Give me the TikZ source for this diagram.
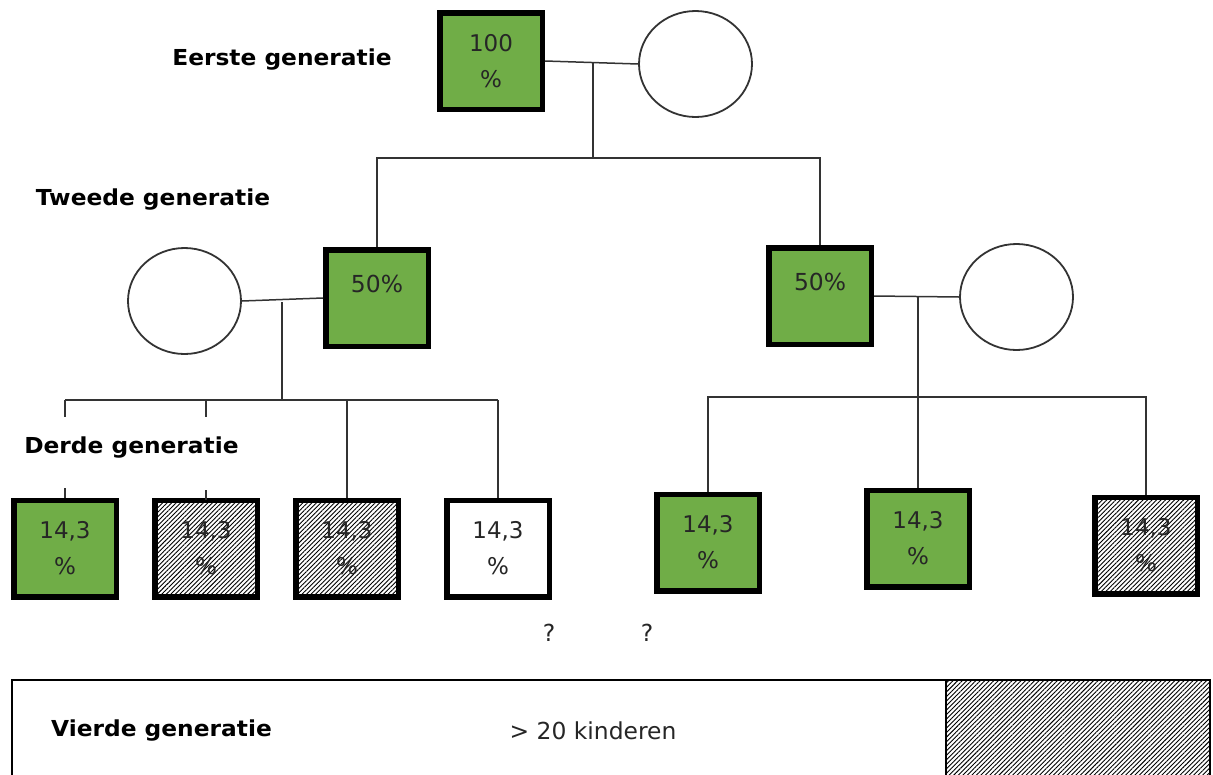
\documentclass[tikz,border=0pt]{standalone}
\usepackage{fontspec}
\setmainfont{DejaVu Sans}
\newfontfamily\genfont[FakeStretch=1.06]{DejaVu Sans}
\usetikzlibrary{shapes.geometric,patterns.meta}

\definecolor{boxgreen}{HTML}{70AD47}
\definecolor{linegray}{HTML}{333333}
\definecolor{txtgray}{HTML}{262626}

\tikzset{
  person/.style={draw=black, line width=5.5pt, minimum width=102.5pt,
    minimum height=96.5pt, inner sep=0pt, align=center, text=txtgray,
    font=\fontsize{23}{36}\selectfont},
  carrier/.style={person, fill=boxgreen},
  plain/.style={person, fill=white},
  hatched/.style={person, pattern={Lines[angle=45,distance=3.2pt,line width=0.9pt]}},
  partner/.style={ellipse, draw=linegray, line width=1.8pt, fill=white,
    minimum width=113pt, minimum height=106pt, inner sep=0pt},
  link/.style={draw=linegray, line width=1.5pt},
  genlabel/.style={anchor=base, inner sep=0pt, font=\genfont\bfseries\fontsize{22}{26}\selectfont},
  note/.style={anchor=base, inner sep=0pt, text=txtgray, font=\fontsize{23.4}{27}\selectfont},
}

\begin{document}
\begin{tikzpicture}[x=1pt, y=-1pt]
  \useasboundingbox[fill=white] (0,0) rectangle (1213,774);

  % first generation
  \node[carrier] (p1) at (491,61) {100\\\%};
  \node[partner] (c1) at (695.5,64) {};

  % second generation
  \node[carrier] (p2L) at (377,298) {};
  \node[note, anchor=center] (t2L) at ([yshift=-37pt]p2L.north) {50\%};
  \node[partner] (c2L) at (184.5,301) {};
  \node[carrier] (p2R) at (820,296) {};
  \node[note, anchor=center] (t2R) at ([yshift=-37pt]p2R.north) {50\%};
  \node[partner] (c2R) at (1016.5,297) {};

  % third generation
  \node[carrier] (k1) at (65,548.5) {14,3\\\%};
  \node[hatched] (k2) at (206,548.5) {14,3\\\%};
  \node[hatched] (k3) at (347,548.5) {14,3\\\%};
  \node[plain]   (k4) at (498,548.5) {14,3\\\%};
  \node[carrier] (k5) at (708,542.5) {14,3\\\%};
  \node[carrier] (k6) at (918,538.5) {14,3\\\%};
  \node[hatched] (k7) at (1146,545.5) {14,3\\\%};

  % junction points
  \coordinate (j1) at (593,62);
  \coordinate (b1) at (593,158);
  \coordinate (j2) at (282,302);
  \coordinate (b2) at (282,400);
  \coordinate (j3) at (918,297);
  \coordinate (b3) at (918,397);

  % first family
  \draw[link] (p1.east) -- (c1.west);
  \draw[link] (j1) -- (b1);
  \draw[link] (p2L.north) -- (p2L.north |- b1) -- (p2R.north |- b1) -- (p2R.north);

  % left family
  \draw[link] (c2L.east) -- (p2L.west);
  \draw[link] (j2) -- (b2);
  \draw[link] (k1.north |- b2) -- (k4.north |- b2);
  \draw[link] (k1.north |- b2) -- ++(0,17);
  \draw[link] (k1.north) -- ++(0,-10);
  \draw[link] (k2.north |- b2) -- ++(0,17);
  \draw[link] (k2.north) -- ++(0,-10);
  \draw[link] (k3.north |- b2) -- (k3.north);
  \draw[link] (k4.north |- b2) -- (k4.north);

  % right family
  \draw[link] (p2R.east) -- (c2R.west);
  \draw[link] (j3) -- (k6.north);
  \draw[link] (k5.north) -- (k5.north |- b3) -- (k7.north |- b3) -- (k7.north);

  % generation labels
  \node[genlabel] (g1) at (282,65) {Eerste generatie};
  \node[genlabel] (g2) at (153,205) {Tweede generatie};
  \node[genlabel] (g3) at (131.5,453) {Derde generatie};

  % unknown descendants
  \node[note] (q1) at (549,641) {?};
  \node[note] (q2) at (647,641) {?};

  % fourth generation band
  \fill[pattern={Lines[angle=45,distance=3.2pt,line width=0.9pt]}] (946,680) rectangle (1210,775);
  \draw[line width=1.5pt, draw=black] (946,680) -- (946,775);
  \draw[line width=1.8pt, draw=black] (12,775) -- (12,680) -- (1210,680) -- (1210,775);
  \node[genlabel] (g4) at (161.5,736) {Vierde generatie};
  \node[note] (n4) at (593,739) {> 20 kinderen};
\end{tikzpicture}
\end{document}
